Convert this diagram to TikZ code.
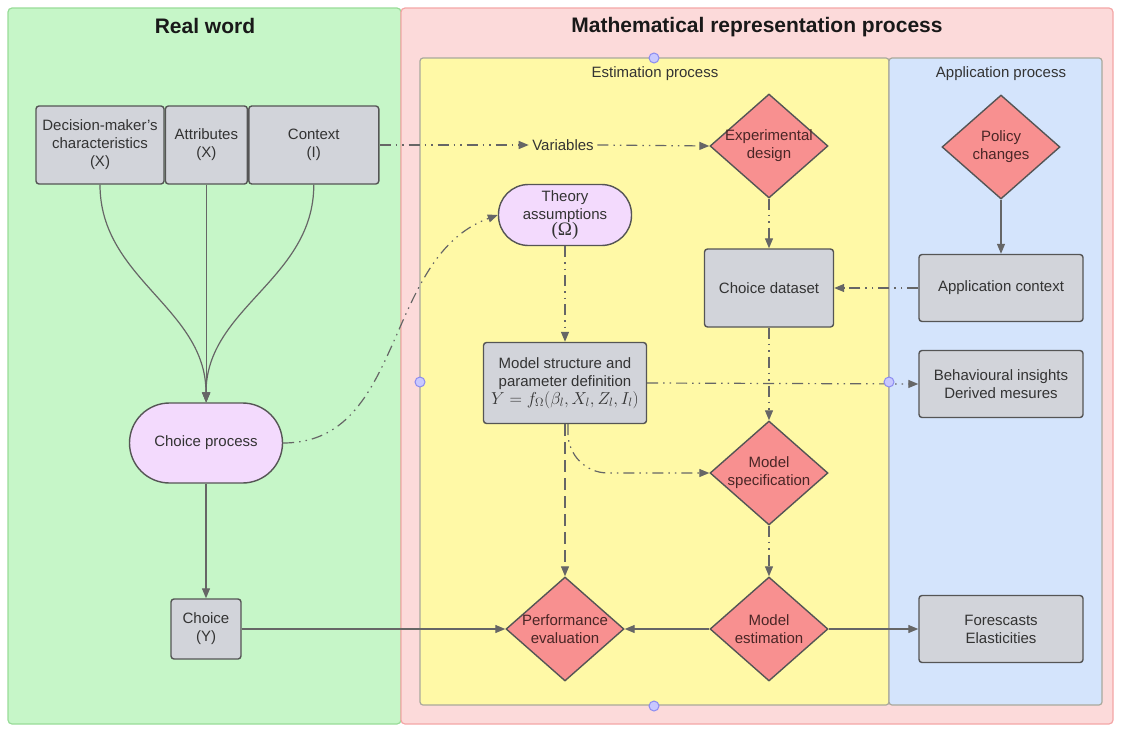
\documentclass[tikz,border=0pt]{standalone}
\usepackage{fontspec}
\setmainfont{Liberation Sans}
\newfontfamily\omegafont{Liberation Serif}
\usetikzlibrary{arrows.meta,shapes.geometric,positioning}
\definecolor{realgreen}{HTML}{C6F6C8}
\definecolor{greenline}{HTML}{98DC98}
\definecolor{mathpink}{HTML}{FCDADA}
\definecolor{pinkline}{HTML}{F4A6A6}
\definecolor{estyellow}{HTML}{FFF9A6}
\definecolor{appblue}{HTML}{D4E4FC}
\definecolor{panelline}{HTML}{A9A99C}
\definecolor{boxgray}{HTML}{D2D4DA}
\definecolor{boxline}{HTML}{555555}
\definecolor{diafill}{HTML}{F89090}
\definecolor{pillfill}{HTML}{F3DAFD}
\definecolor{knobfill}{HTML}{C8C8FF}
\definecolor{knobline}{HTML}{8C8CF0}
\definecolor{wire}{HTML}{666666}
\definecolor{txtgray}{HTML}{333333}
\definecolor{diatext}{HTML}{4A2626}

\begin{document}
\begin{tikzpicture}[x=1pt,y=-1pt,line width=1.2pt,
    every node/.style={font=\fontsize{15}{18}\selectfont,text=txtgray,inner sep=3pt},
    >={Triangle[length=10pt,width=8pt]},
    box/.style={draw=boxline,fill=boxgray,rounded corners=3pt,line width=1.4pt,align=center},
    pill/.style={draw=boxline,fill=pillfill,line width=1.4pt,align=center},
    dia/.style={diamond,draw=boxline,fill=diafill,line width=1.4pt,align=center,
      inner xsep=-20pt,inner ysep=-8pt,minimum width=118pt,minimum height=104pt,text=diatext},
    title/.style={font=\fontsize{21}{25}\selectfont\bfseries,text=black!90},
    knob/.style={circle,draw=knobline,fill=knobfill,line width=1pt,minimum size=10pt,inner sep=0pt},
    ddot/.style={draw=wire,dash pattern=on 11pt off 5pt on 1.5pt off 5pt on 1.5pt off 5pt},
    dashline/.style={draw=wire,dash pattern=on 12pt off 6pt}]
  \useasboundingbox (0,0) rectangle (1127,736);
  \draw[fill=realgreen,draw=greenline,rounded corners=4pt](8,8)rectangle(401,724);
  \draw[fill=mathpink,draw=pinkline,rounded corners=4pt](401,8)rectangle(1113,724);
  \draw[fill=estyellow,draw=panelline,rounded corners=3pt](420,58)rectangle(889,705);
  \draw[fill=appblue,draw=panelline,rounded corners=3pt](889,58)rectangle(1102,705);
  \node[title](realt) at (205,26){Real word};
  \node[title](matht) at (757,27){Mathematical representation process};
  \node(estt) at (655,74){Estimation process};
  \node(appt) at (1001,74){Application process};

  \node[box,minimum width=128pt,minimum height=78pt](dm) at (100,145)
    {Decision-maker's\\characteristics\\(X)};
  \node[box,minimum width=82pt,minimum height=78pt,right=0pt of dm](attr){Attributes\\(X)};
  \node[box,minimum width=130pt,minimum height=78pt,right=0pt of attr](ctx){Context\\(I)};
  \node[pill,minimum width=153pt,minimum height=80pt,rounded corners=40pt](cp) at (206,443)
    {Choice process};
  \node[box,minimum width=70pt,minimum height=60pt](ch) at (206,629){Choice\\(Y)};

  \node(var) at (563,145){Variables};
  \node[dia](exp) at (769,146){Experimental\\design};
  \node[dia](pol) at (1001,147){Policy\\changes};
  \node[pill,minimum width=133pt,minimum height=61pt,rounded corners=30pt](th) at (565,215)
    {Theory\\assumptions\\[-2pt]{\omegafont\fontsize{19}{19}\selectfont(Ω)}};
  \node[box,minimum width=129pt,minimum height=78pt](ds) at (769,288){Choice dataset};
  \node[box,minimum width=164pt,minimum height=67pt](ac) at (1001,288){Application context};
  \node[box,minimum width=163pt,minimum height=81pt](ms) at (565,383)
    {Model structure and\\parameter definition\\{\fontsize{17}{19}\selectfont$Y=f_\Omega(\beta_l,X_l,Z_l,I_l)$}};
  \node[box,minimum width=164pt,minimum height=67pt](bi) at (1001,384)
    {Behavioural insights\\Derived mesures};
  \node[dia](spec) at (769,473){Model\\specification};
  \node[dia](est) at (769,629){Model\\estimation};
  \node[dia](perf) at (565,629){Performance\\evaluation};
  \node[box,minimum width=164pt,minimum height=67pt](fc) at (1001,629){Forescasts\\Elasticities};

  \draw[->,wire](dm.south)to[out=-90,in=90](cp.north);
  \draw[->,wire](attr.south)--(attr.south|-cp.north);
  \draw[->,wire](ctx.south)to[out=-90,in=90](cp.north);
  \draw[->,wire](cp.south)--(ch.north);
  \draw[->,wire](ch.east)--(perf.west);
  \draw[->,ddot](ctx.east)--(var.west);
  \draw[->,ddot](var.east)--(exp.west);
  \draw[->,ddot](cp.east)to[out=0,in=200](th.west);
  \draw[->,ddot](th.south)--(ms.north);
  \draw[->,ddot](exp.south)--(ds.north);
  \draw[->,wire](pol.south)--(ac.north);
  \draw[->,ddot](ac.west)--(ds.east);
  \draw[->,ddot](ms.east)--(bi.west);
  \draw[->,ddot](ds.south)--(spec.north);
  \draw[->,dashline](ms.south)--(perf.north);
  \draw[->,ddot,rounded corners=40pt]([xshift=3pt]ms.south)|-(spec.west);
  \draw[->,ddot](spec.south)--(est.north);
  \draw[->,wire](est.west)--(perf.east);
  \draw[->,wire](est.east)--(fc.west);

  \foreach \x/\y/\n in {654/58/ktop,420/382/kleft,889/382/kright,654/706/kbot}
    \node[knob](\n) at (\x,\y){};
\end{tikzpicture}
\end{document}
